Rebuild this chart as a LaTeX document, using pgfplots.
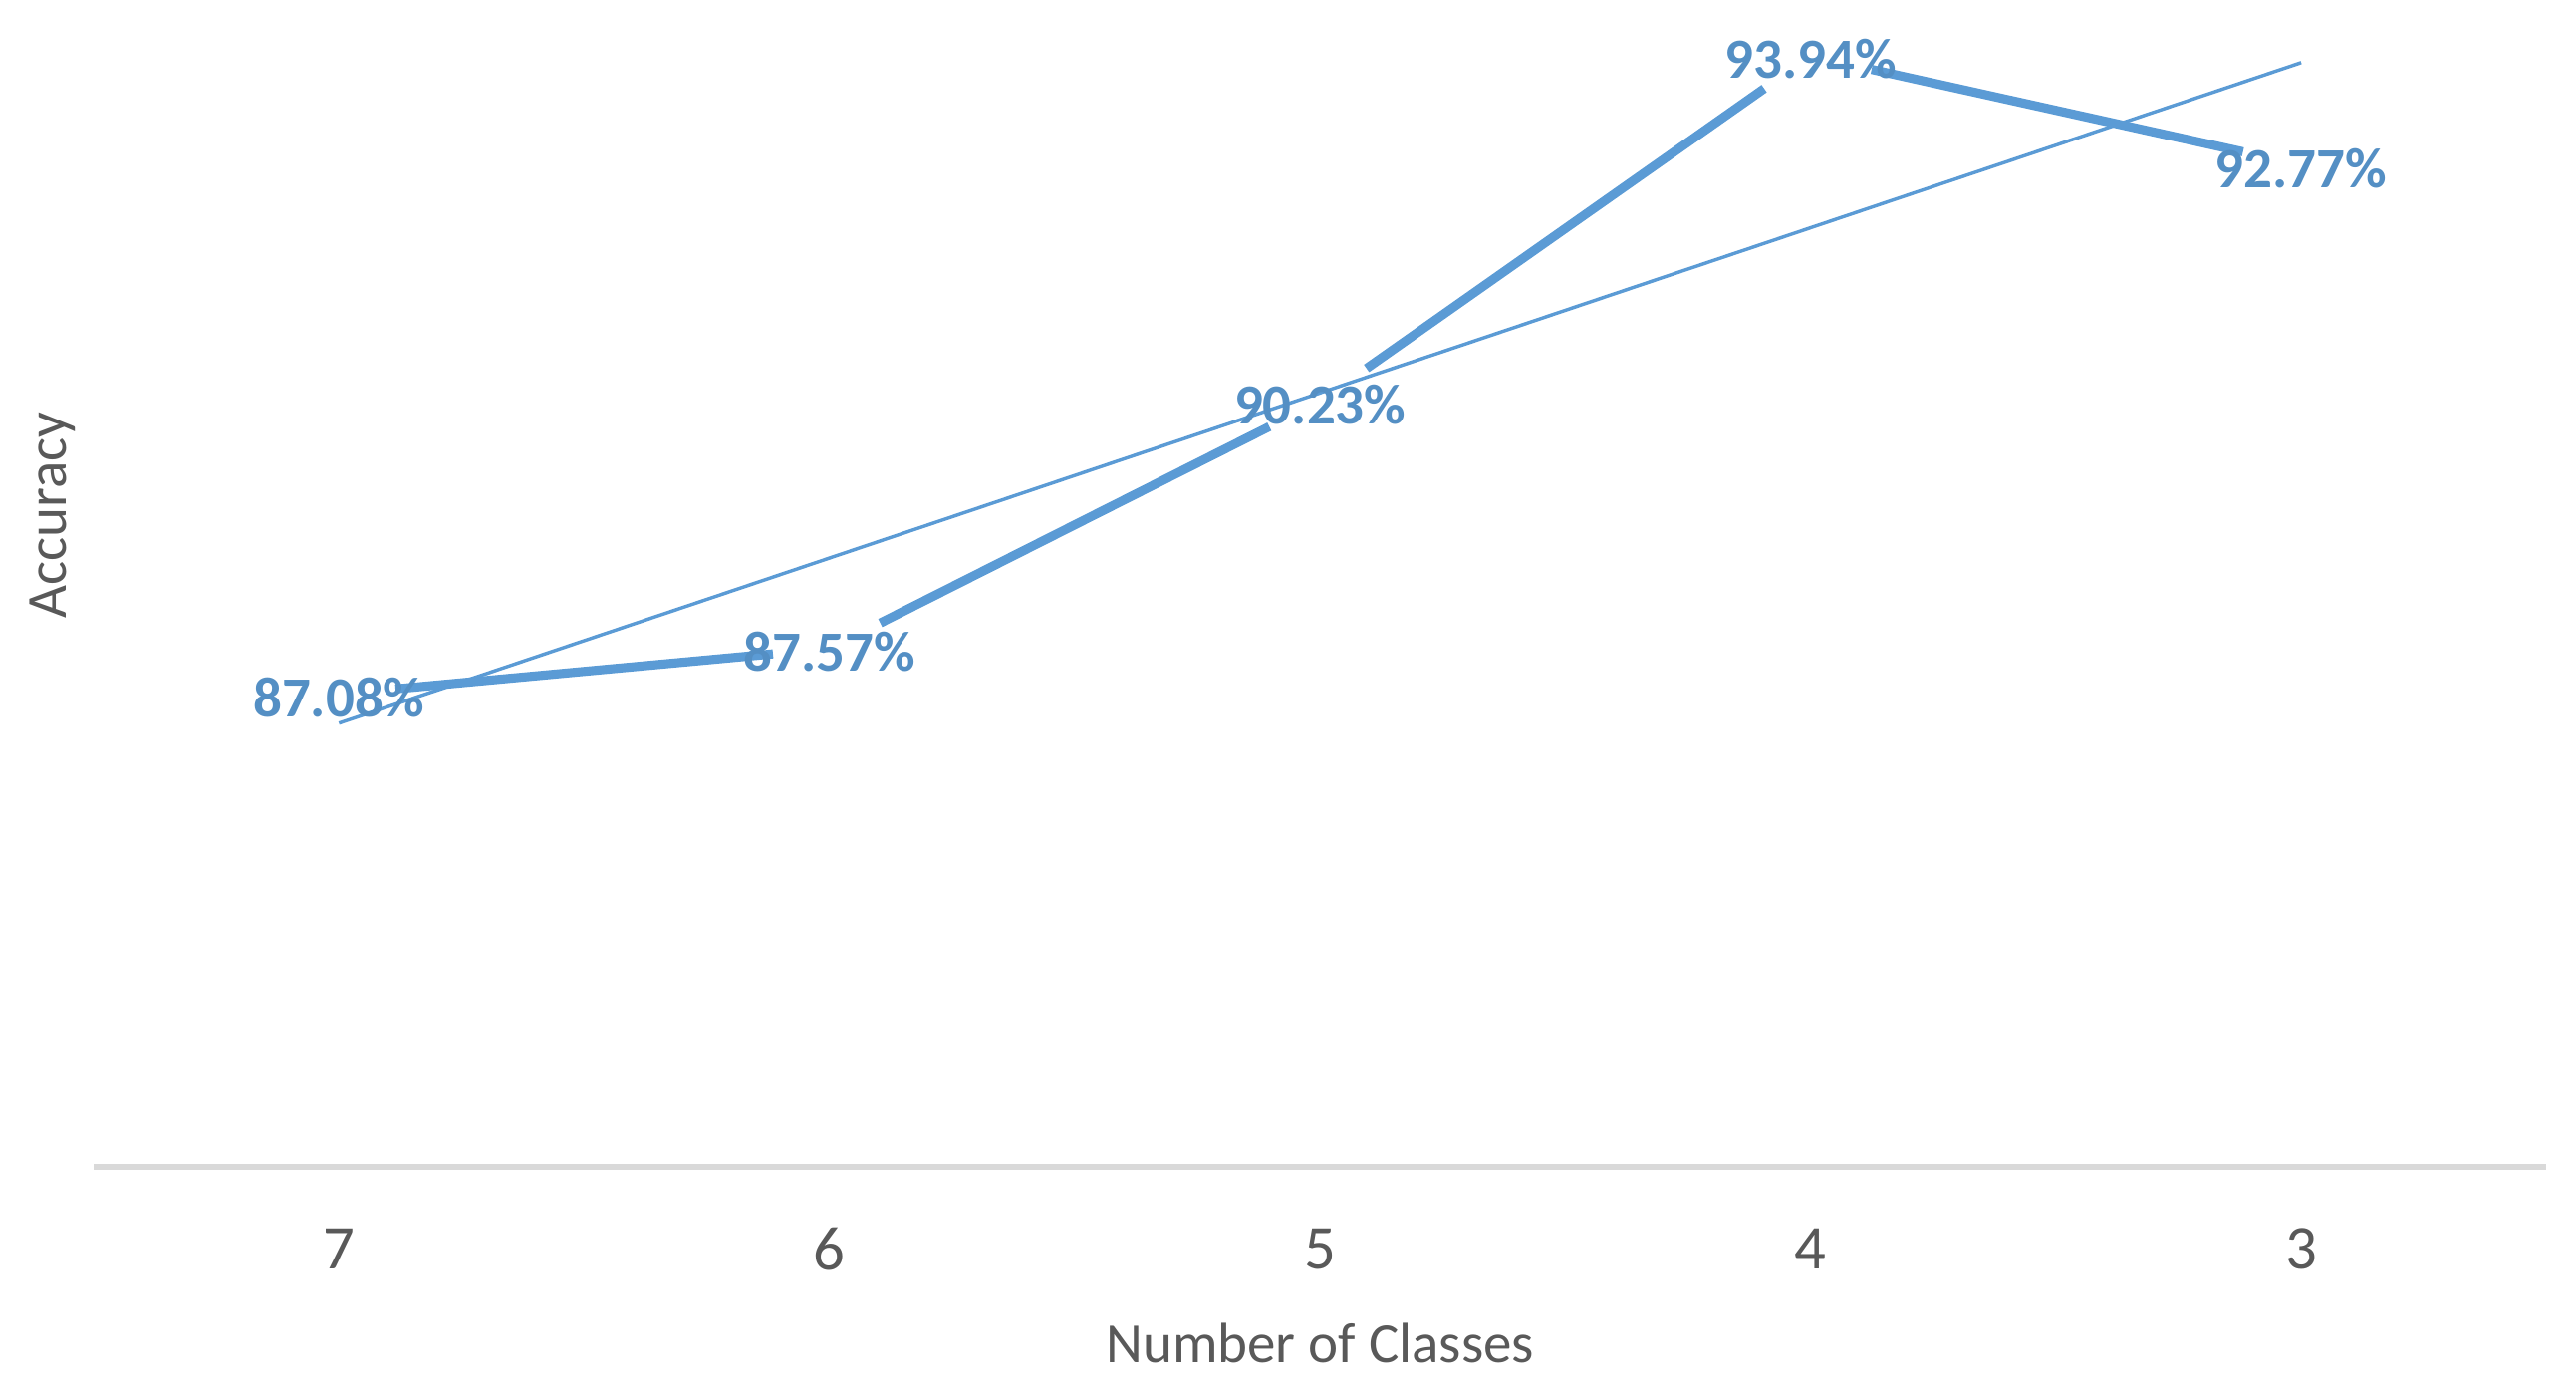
\documentclass[border=0pt]{standalone}
\usepackage{fontspec}
\setmainfont{Carlito}
\usepackage{pgfplots}
\pgfplotsset{compat=1.18}
\definecolor{xlblue}{HTML}{5B9BD5}
\definecolor{lblblue}{RGB}{84,143,196}
\definecolor{txtgray}{HTML}{595959}
\definecolor{axgray}{HTML}{D9D9D9}
\begin{document}
\begin{tikzpicture}
\begin{axis}[
  scale only axis, width=431.9pt, height=229.3pt,
  xmin=-0.5, xmax=4.5, ymin=82, ymax=96,
  axis x line*=bottom, axis y line*=left,
  y axis line style={draw=none},
  x axis line style={axgray, line width=1.1pt, -},
  ytick=\empty,
  xtick={0,1,2,3,4}, xticklabels={7,6,5,4,3},
  major tick length=0pt,
  /pgf/number format/assume math mode=true,
  xticklabel style={anchor=center, yshift=-14.5pt, font=\fontsize{11}{13}\selectfont, text=txtgray},
  xlabel={Number of Classes}, ylabel={Accuracy},
  xlabel style={at={(axis description cs:0.5,-0.1352)}, anchor=center, font=\fontsize{10}{12}\selectfont, text=txtgray},
  ylabel style={at={(axis description cs:-0.0167,0.5)}, anchor=center, font=\fontsize{10}{12}\selectfont, text=txtgray},
  clip=false,
]
% main series, drawn segment by segment with gaps at the labelled points
\addplot[xlblue, line width=1.6pt, shorten <=10pt, shorten >=10pt] coordinates {(0,87.08) (1,87.57)};
\addplot[xlblue, line width=1.6pt, shorten <=10pt, shorten >=10pt] coordinates {(1,87.57) (2,90.23)};
\addplot[xlblue, line width=1.6pt, shorten <=10pt, shorten >=10pt] coordinates {(2,90.23) (3,93.94)};
\addplot[xlblue, line width=1.6pt, shorten <=11pt, shorten >=10.5pt] coordinates {(3,93.94) (4,92.77)};
% data labels
\addplot[draw=none, mark=none, point meta=y,
  nodes near coords={\pgfmathprintnumber[fixed,fixed zerofill,precision=2]{\pgfplotspointmeta}\%},
  every node near coord/.append style={anchor=center, yshift=-0.6pt, text=lblblue, font=\fontsize{10}{12}\selectfont\bfseries}]
  coordinates {(0,87.08) (1,87.57) (2,90.23) (3,93.94) (4,92.77)};
% linear trend line
\addplot[xlblue, line width=0.6pt] coordinates {(0,86.768) (4,93.868)};
\end{axis}
\pgfresetboundingbox
\path[use as bounding box] ([shift={(-16.5pt,-40.8pt)}]current axis.south west) rectangle ([shift={(5.2pt,-23.9pt)}]current axis.north east);
\end{tikzpicture}
\end{document}
